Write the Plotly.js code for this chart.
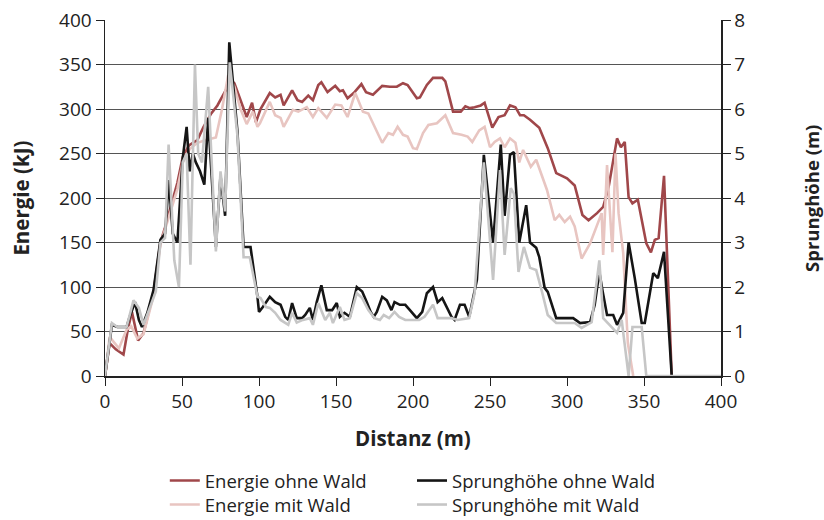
<!DOCTYPE html>
<html>
<head>
<meta charset="utf-8">
<script src="https://cdn.plot.ly/plotly-3.0.1.min.js"></script>
<style>html,body{margin:0;padding:0;background:#fff;}#chart{width:824px;height:520px;}</style>
</head>
<body>
<div id="chart"></div>
<script>
// Energie ohne Wald (kJ)
var xEnergieOhne = [0,3,7,12,15,17.5,21.5,25,31.5,36,39,42.5,47,50.5,54.5,60,64,69,73,79,80.5,84,88.5,92,95.5,98,101,107,110.5,114,116,121.5,125,128,132,135,138.5,140.5,144.5,149.5,152.5,154.5,157.5,161.5,166.5,169.5,174,180,185,189.5,193.5,196.5,202.5,204.5,209,213,219,221,226,231,234,237,240,244,246.5,251.5,255.5,259.5,263,266.5,269.5,272,276,282,287.5,293,300,305,310,314,319.5,323.5,327,332.5,335,337.5,340,342.5,346,351.5,354.5,357,359.5,363,368];
var yEnergieOhne = [0,37,30,24,54,72,40,48,94,150,167,189,217,246,259,265,280,295,304,323,335,329,308,291,307,285,300,318,313,316,304,321,310,308,315,310,327,330,319,326,320,321,312,318,328,319,316,326,325,325,329,327,312,313,327,335,335,331,297,297,303,301,302,304,307,279,291,293,304,302,293,293,288,279,256,228,222,214,181,175,183,190,212,267,257,263,201,194,198,149,139,153,155,225,0];

// Energie mit Wald (kJ)
var xEnergieMit = [0,3,9,14,17,21,25,31.5,36,39,42.5,47,50.5,55,60,65,72,76,80,84,88,92,96,99,100.6,107,110.5,114,116,122,125.5,131,135,138.5,144,149.5,153.5,157.5,162.5,167.5,171,175,180,184,187,190,193.5,196.5,200,202.5,206.5,210,215.5,221,226,231.5,235.5,238.5,243,246.5,250,253,256.5,259.5,263,266.5,269,271.5,276.5,280,287,292,295,298.5,302,305,309.5,315,320,322.5,323.5,326,329.5,331.5,333.5,336.5,339.5,343];
var yEnergieMit = [0,44,31,52,56,42,47,90,148,165,185,210,240,255,262,265,268,300,338,325,300,283,297,280,284,308,293,290,280,299,297,302,291,301,290,305,304,291,318,297,295,280,262,273,271,280,271,269,256,255,273,282,284,293,273,271,269,263,276,280,257,263,267,257,267,262,240,254,235,243,209,175,181,173,179,168,132,149,172,183,136,237,139,250,183,138,37,0];

// Sprunghöhe ohne Wald (m)
var xSprungOhne = [0,4.5,8,14,16,19.5,22,24,27.5,31.5,36,39,41.5,44,47,50.5,53,55,57,59,61.7,64.5,67,70,72,75,78,80.7,86,90,94.5,99,100,102.5,107,110.5,114,117,119,121.5,124.5,128,130,133,135,137.5,140.5,144,147.5,150.5,152.5,155.5,159,163.5,167,170,172.5,174.5,176.5,180,183,186,188,191.5,195,198,202.5,206,209,213,216,219,222,225,227,230.5,233.5,236.5,241.5,246,252,257,259.5,263,265.5,269,273.5,276,280,282,285.5,287.5,293,304,308.5,315,318,321,323,326,330,332.5,336.5,340,344,348.5,350.5,356,359,363,368];
var ySprungOhne = [0,1.15,1.1,1.1,1.33,1.66,1.26,1.1,1.42,1.93,3.06,3.2,4.4,3.2,3.0,4.9,5.6,4.6,5.0,4.8,4.6,4.3,5.8,4.0,2.9,4.5,3.6,7.5,5.5,2.9,2.9,1.78,1.44,1.55,1.78,1.66,1.6,1.33,1.26,1.64,1.3,1.3,1.37,1.53,1.26,1.66,2.04,1.48,1.48,1.64,1.33,1.42,1.33,2.0,1.9,1.66,1.44,1.33,1.44,1.78,1.7,1.48,1.66,1.6,1.6,1.48,1.3,1.44,1.86,2.0,1.66,1.75,1.55,1.33,1.26,1.6,1.6,1.33,2.16,4.97,3.0,5.2,3.6,4.97,5.03,3.0,3.84,3.0,2.88,2.67,1.98,1.89,1.3,1.3,1.19,1.21,1.6,2.34,1.93,1.37,1.37,1.15,1.42,3.0,2.2,1.19,1.19,2.31,2.2,2.79,0];

// Sprunghöhe mit Wald (m)
var xSprungMit = [0,4.5,8,14,18.5,22,25,29.5,33,36,39,41.3,45,48,50.5,53,55.5,58.4,60.5,63,67,72,75,78,81,86,90,94,99,101,104.5,107,110.5,114,117,119,121.5,124.5,128.5,133,135,138.5,143,146,148,152.5,155.5,159,163.5,167,171,175,178.5,181,184.5,188,191,195,204,207.5,213,216,225,229,236.5,240,246,252,256.5,259.5,263.5,265.5,268.5,272,276,280,284,287.5,293,305,309.5,316,321,323.5,332.5,335.5,340,342.5,348.5,351.5,400];
var ySprungMit = [0,1.19,1.1,1.1,1.7,1.53,1.15,1.55,1.9,3.0,3.1,5.2,2.6,2.0,4.8,5.0,2.5,7.0,5.0,4.8,6.5,2.8,4.6,3.7,7.05,5.4,2.67,2.67,1.78,1.75,1.55,1.53,1.42,1.26,1.19,1.15,1.42,1.2,1.26,1.3,1.15,1.64,1.26,1.42,1.19,1.55,1.26,1.3,1.86,1.75,1.48,1.3,1.26,1.37,1.3,1.44,1.33,1.26,1.26,1.33,1.6,1.3,1.3,1.26,1.3,1.86,4.8,2.16,4.63,2.72,4.22,4.1,2.34,2.9,2.43,2.38,1.86,1.37,1.19,1.19,1.08,1.21,2.6,1.3,0.97,1.26,0,1.1,1.1,0,0];

var xTicks = [0,50,100,150,200,250,300,350,400];

var FONT = "Open Sans, Lato, sans-serif";
var traces = [
  {x: xEnergieOhne, y: yEnergieOhne, name: "Energie ohne Wald", type: "scatter", mode: "lines",
   line: {color: "#a0474a", width: 2.6}, legend: "legend"},
  {x: xEnergieMit, y: yEnergieMit, name: "Energie mit Wald", type: "scatter", mode: "lines",
   line: {color: "#e8c5c1", width: 2.6}, legend: "legend2"},
  {x: xSprungOhne, y: ySprungOhne, name: "Sprunghöhe ohne Wald", type: "scatter", mode: "lines",
   yaxis: "y2", line: {color: "#151515", width: 2.6}, legend: "legend3"},
  {x: xSprungMit, y: ySprungMit, name: "Sprunghöhe mit Wald", type: "scatter", mode: "lines",
   yaxis: "y2", line: {color: "#c6c6c6", width: 2.6}, legend: "legend4"}
];

function leg(xc, yc) {
  return {xref: "container", yref: "container", x: xc, y: yc, xanchor: "left", yanchor: "middle",
          orientation: "v", font: {size: 18.5, color: "#222"}, bgcolor: "rgba(0,0,0,0)"};
}

var layout = {
  width: 824, height: 520,
  margin: {l: 105, r: 103, t: 20, b: 144, autoexpand: false},
  paper_bgcolor: "#fff", plot_bgcolor: "#fff",
  font: {family: FONT, size: 19, color: "#222"},
  showlegend: true,
  xaxis: {range: [0, 400], tickvals: xTicks, ticktext: xTicks.map(String), showgrid: false, zeroline: false,
          showline: true, linecolor: "#222", linewidth: 1.5, ticks: "outside", ticklen: 8, tickcolor: "#222",
          tickfont: {size: 19}, automargin: false},
  yaxis: {range: [0, 400], dtick: 50, showgrid: true, gridcolor: "#555", gridwidth: 1, zeroline: false,
          showline: true, linecolor: "#222", linewidth: 1.5, ticks: "outside", ticklen: 8, tickcolor: "#222",
          tickfont: {size: 19}, automargin: false},
  yaxis2: {range: [0, 8], dtick: 1, overlaying: "y", side: "right", showgrid: false, zeroline: false,
           showline: true, linecolor: "#222", linewidth: 1.5, ticks: "outside", ticklen: 8, tickcolor: "#222",
           tickfont: {size: 19}, automargin: false},
  legend: leg(0.2, 1 - 481 / 520),
  legend2: leg(0.2, 1 - 505 / 520),
  legend3: leg(0.5, 1 - 481 / 520),
  legend4: leg(0.5, 1 - 505 / 520),
  annotations: [
    {text: "Distanz (m)", xref: "paper", yref: "paper", x: 0.5, y: -0.174, xanchor: "center", yanchor: "middle",
     showarrow: false, font: {size: 20.5, weight: "bold", color: "#222"}},
    {text: "Energie (kJ)", xref: "paper", yref: "paper", x: -0.137, y: 0.5, xanchor: "center", yanchor: "middle",
     textangle: -90, showarrow: false, font: {size: 20.5, weight: "bold", color: "#222"}},
    {text: "Sprunghöhe (m)", xref: "paper", yref: "paper", x: 1.146, y: 0.5, xanchor: "center", yanchor: "middle",
     textangle: -90, showarrow: false, font: {size: 18.5, weight: "bold", color: "#222"}}
  ]
};

Plotly.newPlot("chart", traces, layout, {displayModeBar: false, staticPlot: true});
</script>
</body>
</html>
